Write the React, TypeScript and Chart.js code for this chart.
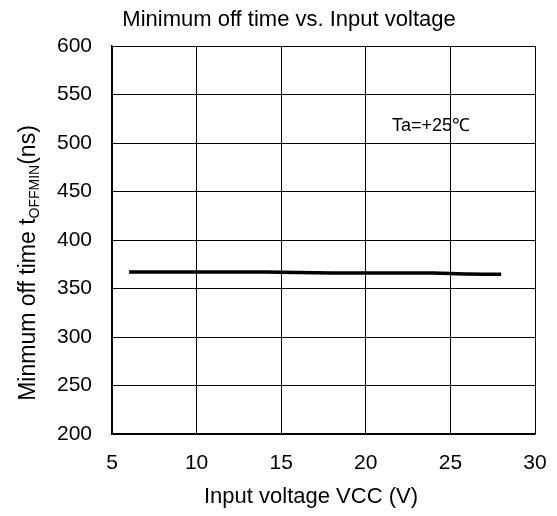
import React, { useEffect, useRef } from "react";
import { Chart, registerables } from "chart.js";

Chart.register(...registerables);

const inputVoltage = [6, 8, 10, 12, 14, 16, 18, 20, 22, 24, 26, 28];
const offTimeNs = [367, 367, 367, 367, 367, 366.5, 366, 366, 366, 366, 365, 364.7];
const chartTitle = "Minimum off time vs. Input voltage";
const xTitle = "Input voltage VCC (V)";
const yTitleMain = "Minmum off time t";
const yTitleSub = "OFFMIN";
const yTitleEnd = "(ns)";
const annotation = "Ta=+25\u2103";

const FONT = "'Liberation Sans', Arial, Helvetica, sans-serif";

export default function App() {
  const ref = useRef<HTMLCanvasElement>(null);
  useEffect(() => {
    const textPlugin = {
      id: "texts",
      afterDraw(chart: any) {
        const ctx = chart.ctx;
        const xs = chart.scales.x;
        const ys = chart.scales.y;
        ctx.save();
        ctx.fillStyle = "#000";
        ctx.textBaseline = "middle";
        ctx.textAlign = "center";
        ctx.font = `22px ${FONT}`;
        ctx.fillText(chartTitle, 289, 20);
        ctx.font = `22px ${FONT}`;
        ctx.fillText(xTitle, 311, 497);
        ctx.textAlign = "left";
        ctx.font = `18px ${FONT}`;
        ctx.fillText(annotation, xs.getPixelForValue(21.55), ys.getPixelForValue(517));
        // rotated y title with subscript
        ctx.translate(29, 263);
        ctx.rotate(-Math.PI / 2);
        const mainFont = `23px ${FONT}`;
        const subFont = `14px ${FONT}`;
        ctx.font = mainFont;
        const w1 = ctx.measureText(yTitleMain).width;
        const w3 = ctx.measureText(yTitleEnd).width;
        ctx.font = subFont;
        const w2 = ctx.measureText(yTitleSub).width;
        const total = w1 + w2 + w3;
        let x = -total / 2;
        ctx.font = mainFont;
        ctx.fillText(yTitleMain, x, 0);
        x += w1;
        ctx.font = subFont;
        ctx.fillText(yTitleSub, x, 6);
        x += w2;
        ctx.font = mainFont;
        ctx.fillText(yTitleEnd, x, 0);
        ctx.restore();
      },
    };
    const chart = new Chart(ref.current!, {
      type: "line",
      data: {
        datasets: [
          {
            data: inputVoltage.map((v, i) => ({ x: v, y: offTimeNs[i] })),
            borderColor: "#000",
            borderWidth: 3.5,
            pointRadius: 0,
            tension: 0.3,
            fill: false,
          },
        ],
      },
      options: {
        responsive: false,
        animation: false,
        layout: { padding: { left: 0, right: 22, top: 46, bottom: 0 } },
        plugins: { legend: { display: false }, tooltip: { enabled: false } },
        scales: {
          x: {
            type: "linear",
            min: 5,
            max: 30,
            ticks: { stepSize: 5, color: "#000", font: { size: 21, family: FONT }, padding: 17, maxRotation: 0 },
            grid: { color: "#000", lineWidth: 1, drawTicks: false },
            border: { color: "#000", width: 1.5 },
            afterFit(scale: any) {
              scale.height = 82;
              scale.paddingLeft = 0;
              scale.paddingRight = 0;
            },
          },
          y: {
            min: 200,
            max: 600,
            ticks: { stepSize: 50, color: "#000", font: { size: 21, family: FONT }, padding: 20 },
            grid: { color: "#000", lineWidth: 1, drawTicks: false },
            border: { color: "#000", width: 1.5 },
            afterFit(scale: any) {
              scale.width = 112;
              scale.paddingTop = 0;
              scale.paddingBottom = 0;
            },
          },
        },
      },
      plugins: [textPlugin],
    });
    return () => chart.destroy();
  }, []);
  return (
    <div style={{ position: "absolute", left: 0, top: 0, width: 557, height: 516, background: "#fff" }}>
      <canvas ref={ref} width={557} height={516} style={{ width: 557, height: 516 }} />
    </div>
  );
}
